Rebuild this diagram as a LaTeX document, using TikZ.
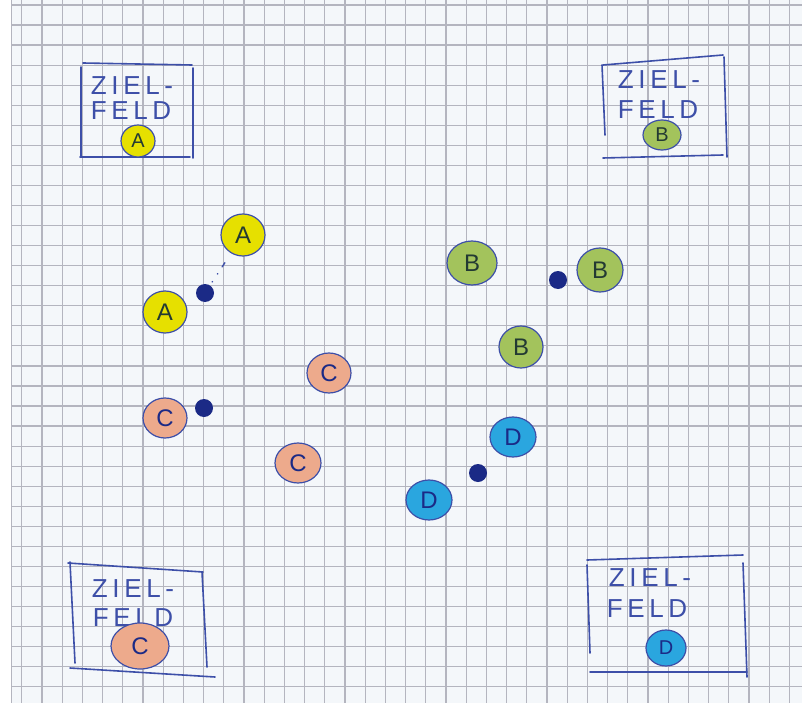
\documentclass[tikz,border=0pt]{standalone}
\usepackage{fontspec}
\usetikzlibrary{shapes.geometric}
\newfontfamily\handfont{Liberation Sans}
\newfontfamily\fieldfont[LetterSpace=18]{Liberation Sans}
\definecolor{paper}{HTML}{F4F7FA}
\definecolor{gridline}{HTML}{B4B5BF}
\definecolor{pen}{HTML}{3D4FA8}
\definecolor{navy}{HTML}{1B2A86}
\definecolor{inkdark}{HTML}{233A33}
\definecolor{tokA}{HTML}{E6E000}
\definecolor{tokB}{HTML}{A3C35C}
\definecolor{tokC}{HTML}{EDAA8C}
\definecolor{tokD}{HTML}{2AA6DF}

\begin{document}
\begin{tikzpicture}[x=1pt,y=-1pt,
  gridl/.style={gridline,line width=1.2pt},
  frame/.style={pen,line width=1.6pt,line cap=round},
  field/.style={text=pen,font=\fieldfont\fontsize{26}{26}\selectfont,inner sep=0pt},
  token/.style={ellipse,fill=#1,draw=pen,line width=1.2pt,inner sep=0pt,minimum width=44pt,minimum height=42pt,font=\handfont\fontsize{24}{24}\selectfont},
  dot/.style={circle,fill=navy,inner sep=0pt,minimum width=18pt,minimum height=16pt}]
\useasboundingbox (0,0) rectangle (802,703);
\fill[paper] (0,0) rectangle (802,703);
\fill[white] (0,0) rectangle (11,703);
% Karopapier
\draw[gridl] (11.7,0) -- (11.7,703);
\foreach \i in {0,...,38} {\draw[gridl] ({21.7+20.2*\i},0) -- ({21.7+20.2*\i},703);}
\foreach \j in {0,...,34} {\draw[gridl] (11.7,{5+20.05*\j}) -- (802,{5+20.05*\j});}

% Zielfelder
\draw[frame] (83,63) -- (192,65); \draw[frame] (81,67) -- (81,157);
\draw[frame] (193,68) -- (193,158); \draw[frame] (80,157) -- (190,157);
\node[field] (za1) at (132,86) {ZIEL-};
\node[field] (za2) at (131,111) {FELD};
\node[token=tokA,text=inkdark,minimum width=34pt,minimum height=32pt,font=\handfont\fontsize{20}{20}\selectfont] (zA) at (138,141) {A};

\draw[frame] (603,65) -- (723,55); \draw[frame] (602,65) -- (605,135);
\draw[frame] (724,57) -- (727,157); \draw[frame] (603,158) -- (723,155);
\node[field] (zb1) at (659,80) {ZIEL-};
\node[field] (zb2) at (658,110) {FELD};
\node[token=tokB,text=inkdark,minimum width=38pt,minimum height=30pt,font=\handfont\fontsize{20}{20}\selectfont] (zB) at (662,135) {B};

\draw[frame] (68,563) -- (203,572); \draw[frame] (70,562) -- (75,663);
\draw[frame] (202,572) -- (207,667); \draw[frame] (70,668) -- (215,677);
\node[field] (zc1) at (133,589) {ZIEL-};
\node[field] (zc2) at (133,618) {FELD};
\node[token=tokC,text=navy,minimum width=58pt,minimum height=46pt] (zC) at (140,646) {C};

\draw[frame] (587,560) -- (743,555); \draw[frame] (587,565) -- (590,653);
\draw[frame] (743,563) -- (747,677); \draw[frame] (590,672) -- (747,672);
\node[field] (zd1) at (650,578) {ZIEL-};
\node[field] (zd2) at (647,609) {FELD};
\node[token=tokD,text=navy,minimum width=40pt,minimum height=36pt,font=\handfont\fontsize{20}{20}\selectfont] (zD) at (666,648) {D};

% Spielsteine
\node[token=tokA,text=inkdark] (a1) at (243,235) {A};
\node[token=tokA,text=inkdark] (a2) at (165,312) {A};
\node[dot] (da) at (205,293) {};
\draw[pen,line width=1.4pt,line cap=round,dash pattern=on 0.5pt off 9pt on 0.5pt off 8pt on 5pt off 30pt,shorten <=4pt] (da) -- (a1);

\node[token=tokB,text=inkdark,minimum width=50pt,minimum height=44pt] (b1) at (472,263) {B};
\node[token=tokB,text=inkdark,minimum width=46pt,minimum height=44pt] (b2) at (600,270) {B};
\node[token=tokB,text=inkdark] (b3) at (521,347) {B};
\node[dot] (db) at (558,280) {};

\node[token=tokC,text=navy,minimum width=44pt,minimum height=40pt] (c1) at (165,418) {C};
\node[token=tokC,text=navy,minimum width=44pt,minimum height=40pt] (c2) at (329,373) {C};
\node[token=tokC,text=navy,minimum width=46pt,minimum height=40pt] (c3) at (298,463) {C};
\node[dot] (dc) at (204,408) {};

\node[token=tokD,text=navy,minimum width=46pt,minimum height=40pt] (d1) at (513,437) {D};
\node[token=tokD,text=navy,minimum width=46pt,minimum height=40pt] (d2) at (429,500) {D};
\node[dot] (dd) at (478,473) {};
\end{tikzpicture}
\end{document}
